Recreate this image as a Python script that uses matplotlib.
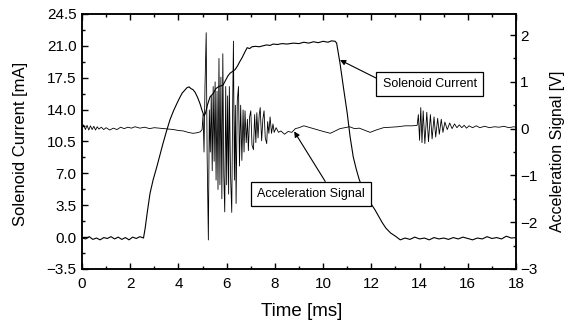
#!/usr/bin/env python3
import matplotlib
matplotlib.use("Agg")
import matplotlib.pyplot as plt
from matplotlib.ticker import MultipleLocator

plt.rcParams["font.family"] = ["Liberation Sans", "DejaVu Sans"]

# Solenoid current, left axis [mA]
current_t = [0.0, 0.15, 0.3, 0.45, 0.6, 0.75, 0.9, 1.05, 1.2, 1.35, 1.5, 1.65, 1.8, 1.95,
             2.1, 2.25, 2.4, 2.55, 2.62, 2.7, 2.82, 2.95, 3.1, 3.23, 3.36, 3.5, 3.65, 3.8,
             3.94, 4.05, 4.15, 4.25, 4.35, 4.44, 4.52, 4.6, 4.69, 4.8, 4.9, 4.98, 5.06,
             5.12, 5.2, 5.31, 5.45, 5.55, 5.65, 5.75, 5.85, 5.95, 6.05, 6.14, 6.25, 6.35,
             6.45, 6.55, 6.64, 6.75, 6.85, 6.95, 7.05, 7.2, 7.35, 7.5, 7.65, 7.8, 7.93,
             8.1, 8.3, 8.5, 8.76, 9.0, 9.2, 9.4, 9.6, 9.8, 10.0, 10.2, 10.35, 10.5, 10.56,
             10.7, 10.85, 11.0, 11.12, 11.25, 11.38, 11.5, 11.65, 11.8, 11.95, 12.15,
             12.3, 12.45, 12.6, 12.8, 13.0, 13.2, 13.4, 13.6, 13.8, 14.0, 14.2, 14.4,
             14.6, 14.8, 15.0, 15.2, 15.4, 15.6, 15.8, 16.0, 16.2, 16.4, 16.6, 16.8,
             17.0, 17.2, 17.4, 17.6, 17.8, 18.0]
current_ma = [-0.1, -0.2, 0.05, -0.25, -0.1, -0.3, -0.05, -0.15, 0.05, -0.2, 0.0, -0.25,
              -0.05, -0.3, 0.0, -0.15, 0.05, -0.1, 1.0, 2.6, 4.8, 6.3, 7.7, 9.0, 10.3,
              11.6, 12.9, 13.9, 14.7, 15.3, 15.8, 16.1, 16.4, 16.5, 16.3, 16.2, 15.9,
              15.3, 14.6, 13.9, 13.3, 13.6, 14.5, 15.4, 15.8, 16.3, 16.5, 16.6, 16.7,
              17.2, 17.7, 18.0, 18.2, 18.4, 18.8, 19.3, 19.7, 20.3, 20.8, 20.7, 20.9,
              20.95, 20.9, 21.0, 21.1, 21.05, 21.2, 21.15, 21.25, 21.2, 21.3, 21.25,
              21.4, 21.3, 21.45, 21.35, 21.5, 21.4, 21.55, 21.5, 21.3, 19.1, 16.3, 13.6,
              11.0, 8.8, 7.4, 6.3, 5.3, 4.4, 3.8, 3.0, 2.3, 1.6, 1.0, 0.45, 0.1, -0.3,
              -0.1, -0.25, 0.0, -0.2, -0.1, -0.3, -0.05, -0.2, -0.1, -0.25, -0.05, -0.2,
              0.0, -0.15, -0.3, -0.1, -0.2, 0.05, -0.15, -0.05, -0.2, 0.1, -0.1, -0.05]

# Acceleration signal, right axis [V]
accel_t = [0.0, 0.07, 0.14, 0.21, 0.28, 0.35, 0.42, 0.49, 0.56, 0.63, 0.7, 0.8, 0.9, 1.0,
           1.15, 1.3, 1.45, 1.6, 1.75, 1.9, 2.05, 2.2, 2.4, 2.6, 2.8, 3.0, 3.2, 3.4, 3.6,
           3.8, 4.0, 4.2, 4.4, 4.6, 4.75, 4.9, 4.98,
           5.02, 5.06, 5.1, 5.15, 5.19, 5.24, 5.28, 5.32, 5.36, 5.4, 5.44, 5.48, 5.52,
           5.56, 5.6, 5.64, 5.68, 5.72, 5.76, 5.8, 5.84, 5.88, 5.92, 5.96, 6.0, 6.04,
           6.08, 6.11, 6.16, 6.21, 6.25, 6.28, 6.32, 6.36, 6.39, 6.44, 6.49, 6.53, 6.58,
           6.63, 6.68, 6.72, 6.76, 6.81, 6.86, 6.9, 6.95, 7.0, 7.05, 7.11, 7.16, 7.21,
           7.25, 7.3, 7.35, 7.39, 7.45, 7.5, 7.55, 7.6, 7.66, 7.7, 7.75, 7.8, 7.86, 7.92,
           7.97, 8.05, 8.15, 8.25, 8.4, 8.55, 8.7, 8.85, 9.0, 9.2, 9.4, 9.6, 9.8, 10.0,
           10.3, 10.5, 10.7, 10.9, 11.1, 11.3, 11.5, 11.7, 11.95, 12.2, 12.5, 12.8, 13.1,
           13.4, 13.7, 13.9, 13.95, 14.0, 14.05, 14.1, 14.15, 14.22, 14.3, 14.37, 14.45,
           14.52, 14.6, 14.67, 14.75, 14.82, 14.9, 14.97, 15.05, 15.15, 15.25, 15.35,
           15.45, 15.55, 15.65, 15.75, 15.85, 15.95, 16.05, 16.2, 16.35, 16.5, 16.7,
           16.9, 17.1, 17.3, 17.5, 17.7, 17.9, 18.0]
accel_v = [0.03, 0.08, -0.02, 0.07, -0.03, 0.06, -0.02, 0.05, -0.03, 0.04, -0.01, 0.03,
           -0.02, 0.02, -0.03, 0.01, -0.02, 0.03, 0.0, 0.03, 0.01, 0.04, 0.01, 0.03, 0.0,
           0.02, 0.01, 0.0, -0.01, -0.02, -0.04, -0.05, -0.08, -0.1, -0.09, -0.07, -0.02,
           0.3, -0.5, 0.9, 2.05, -0.6, -2.38, 0.4, -0.5, 0.7, -0.9, 0.9, -0.7, 1.0, -1.1,
           0.8, -1.3, 1.5, -1.2, 1.1, -1.5, 1.6, -1.0, -1.78, 0.9, -1.2, 0.7, -1.4, 0.9,
           -1.0, -1.79, 0.6, 1.87, -1.1, 0.5, -1.6, 0.6, 0.9, -0.8, 0.5, -0.68, 0.4, -0.5,
           0.38, -0.3, 0.2, -0.47, 0.25, 0.38, -0.35, -0.45, 0.3, -0.3, 0.34, -0.2, 0.3,
           0.45, -0.26, 0.2, 0.38, -0.2, -0.32, 0.15, -0.1, 0.25, -0.1, 0.1, -0.08, 0.02,
           -0.08, -0.05, -0.12, -0.06, -0.08, 0.0, 0.02, 0.06, 0.03, 0.0, -0.03, -0.06,
           -0.1, -0.05, 0.0, 0.02, 0.04, 0.0, 0.01, -0.03, -0.08, -0.03, 0.02, 0.03, 0.04,
           0.06, 0.06, 0.07, 0.3, -0.25, 0.45, -0.3, 0.38, -0.32, 0.35, -0.28, 0.3, -0.22,
           0.25, -0.18, 0.22, -0.12, 0.2, -0.08, 0.14, -0.02, 0.12, 0.0, 0.1, 0.02, 0.08,
           0.02, 0.07, 0.01, 0.06, 0.02, 0.06, 0.02, 0.05, 0.02, 0.04, 0.03, 0.05, 0.02,
           0.04, 0.03]

fig = plt.figure(figsize=(5.72, 3.2), dpi=100)
ax = fig.add_axes([0.1434, 0.1594, 0.7587, 0.7969])
ax2 = ax.twinx()

ax.plot(current_t, current_ma, color="black", linewidth=0.8)
ax2.plot(accel_t, accel_v, color="black", linewidth=0.6)

ax.set_xlim(0, 18)
ax.set_ylim(-3.5, 24.5)
ax2.set_ylim(-3, 2.45)

ax.xaxis.set_major_locator(MultipleLocator(2))
ax.xaxis.set_minor_locator(MultipleLocator(1))
ax.yaxis.set_major_locator(MultipleLocator(3.5))
ax.yaxis.set_minor_locator(MultipleLocator(1.75))
ax2.yaxis.set_major_locator(MultipleLocator(1))
ax2.yaxis.set_minor_locator(MultipleLocator(0.5))
ax.yaxis.set_major_formatter(lambda v, p: f"{v:.1f}".replace("-", "\u2212"))

ax.tick_params(which="both", direction="in", top=True, right=False, width=1.0)
ax.tick_params(which="major", length=4, labelsize=11)
ax.tick_params(which="minor", length=2.5)
ax.tick_params(axis="x", pad=5.5)
ax.tick_params(axis="y", pad=4)
ax2.tick_params(which="both", direction="in", width=1.0)
ax2.tick_params(which="major", length=4, labelsize=11, pad=3)
ax2.tick_params(which="minor", length=2.5)

for a in (ax, ax2):
    for s in a.spines.values():
        s.set_linewidth(1.1)

ax.set_xlabel("Time [ms]", fontsize=13.5)
ax.xaxis.set_label_coords(0.506, -0.135)
ax.set_ylabel("Solenoid Current [mA]", fontsize=12)
ax.yaxis.set_label_coords(-0.125, 0.49)
ax2.set_ylabel("Acceleration Signal [V]", fontsize=11.5)
ax2.yaxis.set_label_coords(1.078, 0.46)

box = dict(boxstyle="square,pad=0.5", facecolor="white", edgecolor="black", linewidth=0.9)
ax.annotate("Solenoid Current", xy=(10.7, 19.45), xytext=(14.42, 16.8),
            ha="center", va="center", fontsize=9, bbox=box,
            arrowprops=dict(arrowstyle="-|>", color="black", linewidth=0.8,
                            mutation_scale=8, relpos=(0.0, 0.73), shrinkA=0, shrinkB=0))
ax2.annotate("Acceleration Signal", xy=(8.8, -0.06), xytext=(9.5, -1.4),
             ha="center", va="center", fontsize=9, bbox=box,
             arrowprops=dict(arrowstyle="-|>", color="black", linewidth=0.8,
                             mutation_scale=8, relpos=(0.67, 1.0), shrinkA=0, shrinkB=0))

fig.savefig("out.png", dpi=100)
